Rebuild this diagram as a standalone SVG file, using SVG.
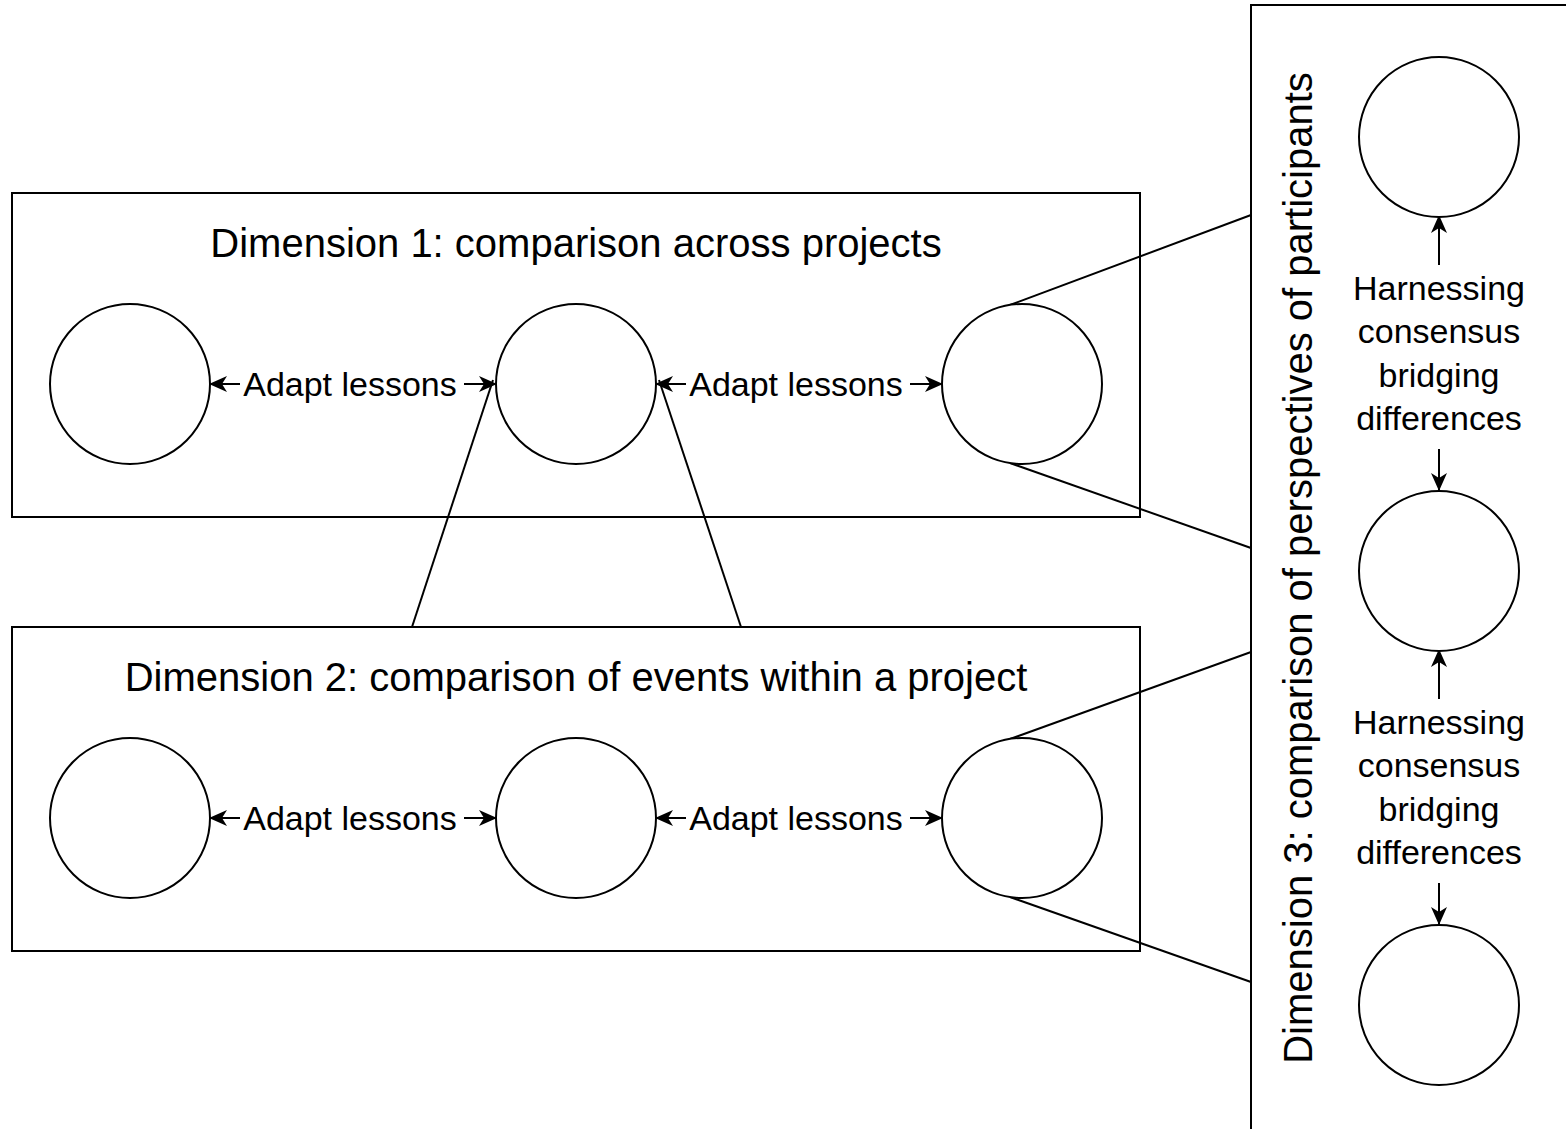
<svg xmlns="http://www.w3.org/2000/svg" width="1566" height="1129" viewBox="0 0 1566 1129">
<style>
.box{fill:none;stroke:#000;stroke-width:2}
.c{fill:#fff;stroke:#000;stroke-width:2}
.ln{fill:none;stroke:#000;stroke-width:2}
.t{font-family:"Liberation Sans",Arial,sans-serif;fill:#000}
.title{font-size:40px;text-anchor:middle}
.lab{font-size:34px;text-anchor:middle}
.bg{fill:#fff}
</style>
<defs>
<marker id="ah" viewBox="0 0 18 16" refX="17" refY="8" markerWidth="18" markerHeight="16" markerUnits="userSpaceOnUse" orient="auto-start-reverse">
<path d="M0,0 L18,8 L0,16 L5,8 z" fill="#000"/>
</marker>
</defs>
<rect width="1566" height="1129" fill="#fff"/>
<g id="dim1">
<rect class="box" x="12" y="193" width="1128" height="324"/>
<text class="t title" x="576" y="257">Dimension 1: comparison across projects</text>
</g>
<g id="dim2">
<rect class="box" x="12" y="627" width="1128" height="324"/>
<text class="t title" x="576" y="691">Dimension 2: comparison of events within a project</text>
</g>
<g id="dim3">
<rect class="box" x="1251" y="5" width="330" height="1140"/>
<text class="t title" transform="translate(1312,568) rotate(-90)">Dimension 3: comparison of perspectives of participants</text>
</g>
<g id="connectors">
<line class="ln" x1="493" y1="380" x2="412" y2="627"/>
<line class="ln" x1="659" y1="380" x2="741" y2="627"/>
<line class="ln" x1="1010" y1="305" x2="1251" y2="215"/>
<line class="ln" x1="1010" y1="463" x2="1251" y2="548"/>
<line class="ln" x1="1010" y1="739" x2="1251" y2="652"/>
<line class="ln" x1="1010" y1="897" x2="1251" y2="982"/>
<line class="ln" x1="210" y1="384" x2="496" y2="384" marker-start="url(#ah)" marker-end="url(#ah)"/>
<line class="ln" x1="656" y1="384" x2="942" y2="384" marker-start="url(#ah)" marker-end="url(#ah)"/>
<line class="ln" x1="210" y1="818" x2="496" y2="818" marker-start="url(#ah)" marker-end="url(#ah)"/>
<line class="ln" x1="656" y1="818" x2="942" y2="818" marker-start="url(#ah)" marker-end="url(#ah)"/>
<line class="ln" x1="1439" y1="216" x2="1439" y2="490" marker-start="url(#ah)" marker-end="url(#ah)"/>
<line class="ln" x1="1439" y1="650" x2="1439" y2="924" marker-start="url(#ah)" marker-end="url(#ah)"/>
<rect class="bg" x="240" y="366" width="224" height="38"/>
<text class="t lab" x="350" y="396">Adapt lessons</text>
<rect class="bg" x="686" y="366" width="224" height="38"/>
<text class="t lab" x="796" y="396">Adapt lessons</text>
<rect class="bg" x="240" y="800" width="224" height="38"/>
<text class="t lab" x="350" y="830">Adapt lessons</text>
<rect class="bg" x="686" y="800" width="224" height="38"/>
<text class="t lab" x="796" y="830">Adapt lessons</text>
<rect class="bg" x="1350" y="265" width="178" height="184"/>
<text class="t lab" x="1439" y="300">Harnessing</text>
<text class="t lab" x="1439" y="343">consensus</text>
<text class="t lab" x="1439" y="387">bridging</text>
<text class="t lab" x="1439" y="430">differences</text>
<rect class="bg" x="1350" y="699" width="178" height="184"/>
<text class="t lab" x="1439" y="734">Harnessing</text>
<text class="t lab" x="1439" y="777">consensus</text>
<text class="t lab" x="1439" y="821">bridging</text>
<text class="t lab" x="1439" y="864">differences</text>
</g>
<g id="p1"><circle class="c" cx="130" cy="384" r="80"/></g>
<g id="p2"><circle class="c" cx="576" cy="384" r="80"/></g>
<g id="p3"><circle class="c" cx="1022" cy="384" r="80"/></g>
<g id="e1"><circle class="c" cx="130" cy="818" r="80"/></g>
<g id="e2"><circle class="c" cx="576" cy="818" r="80"/></g>
<g id="e3"><circle class="c" cx="1022" cy="818" r="80"/></g>
<g id="s1"><circle class="c" cx="1439" cy="137" r="80"/></g>
<g id="s2"><circle class="c" cx="1439" cy="571" r="80"/></g>
<g id="s3"><circle class="c" cx="1439" cy="1005" r="80"/></g>
</svg>
